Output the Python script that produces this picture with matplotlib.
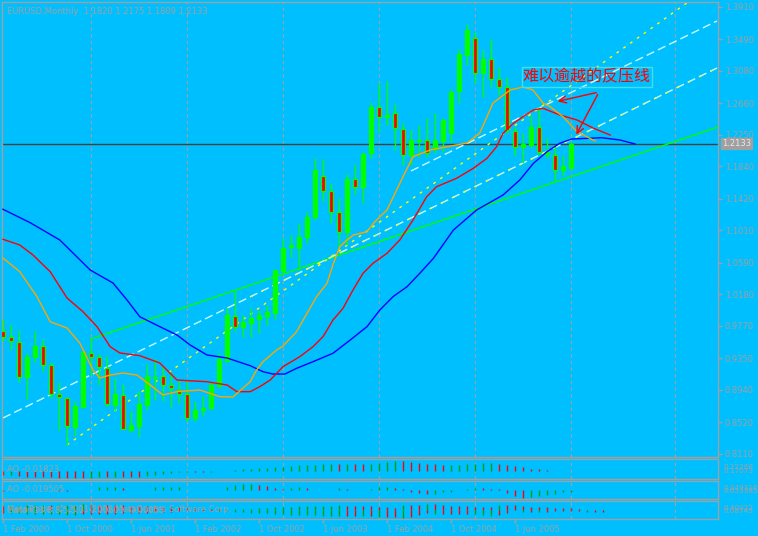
import matplotlib
matplotlib.use('Agg')
import matplotlib.pyplot as plt
import numpy as np
from matplotlib.transforms import blended_transform_factory

W, H = 758, 536
BG = '#00bfff'
FG = '#a0a0a0'
BULL = '#00ff00'
BEAR = '#ff0000'

# ---------------- data ----------------
symbol_title = 'EURUSD,Monthly  1.1820 1.2175 1.1809 1.2133'
date_labels = ['1 Feb 2000', '1 Oct 2000', '1 Jun 2001', '1 Feb 2002', '1 Oct 2002',
               '1 Jun 2003', '1 Feb 2004', '1 Oct 2004', '1 Jun 2005']
date_idx = [0, 8, 16, 24, 32, 40, 48, 56, 64]
grid_idx = [11, 23, 35, 47, 59, 71, 84]
price_ticks = [0.8110, 0.8520, 0.8940, 0.9350, 0.9770, 1.0180, 1.0590, 1.1010,
               1.1420, 1.1840, 1.2250, 1.2660, 1.3080, 1.3490, 1.3910]
last_price = 1.2133

opens = [.9709, .9623, .9566, .9104, .9363, .9515, .9264, .8884, .8832, .8464,
         .8716, .9415, .9372, .9221, .8741, .8875, .8420, .8476, .8741, .9091,
         .9121, .9004, .8939, .8887, .8576, .8680, .8706, .8992, .9320, .9904,
         .9761, .9813, .9860, .9903, .9942, 1.0487, 1.0790, 1.0777, 1.0920, 1.1179,
         1.1719, 1.1525, 1.1244, 1.0993, 1.1671, 1.1568, 1.2009, 1.2605, 1.2475, 1.2536,
         1.2320, 1.1987, 1.2168, 1.2186, 1.2061, 1.2173, 1.2276, 1.2821, 1.3284, 1.3500,
         1.3055, 1.3227, 1.2968, 1.2864, 1.2303, 1.2087, 1.2116, 1.2346, 1.2000, 1.1987,
         1.1792, 1.1820]
highs = [.9860, .9796, .9718, .9415, .9705, .9597, .9285, .9043, .8853, .8797,
         .9458, .9597, .9406, .9381, .9091, .9017, .8671, .8931, .9273, .9342,
         .9251, .9177, .9069, .9056, .8801, .8862, .9048, .9415, .9999, 1.0236,
         .9912, .9999, .9977, 1.0042, 1.0500, 1.0907, 1.0950, 1.1101, 1.1252, 1.1944,
         1.1931, 1.1628, 1.1425, 1.1741, 1.1870, 1.2030, 1.2657, 1.2917, 1.2947, 1.2650,
         1.2398, 1.2311, 1.2376, 1.2463, 1.2528, 1.2463, 1.2839, 1.3357, 1.3681, 1.3586,
         1.3349, 1.3487, 1.3124, 1.2994, 1.2354, 1.2268, 1.2506, 1.2615, 1.2204, 1.2117,
         1.1990, 1.2175]
lows = [.9580, .9458, .9048, .8823, .9298, .9186, .8832, .8421, .8227, .8347,
        .8702, .9134, .9005, .8737, .8672, .8430, .8390, .8335, .8680, .8810,
        .8801, .8724, .8767, .8542, .8533, .8606, .8693, .8962, .9300, .9709,
        .9631, .9631, .9675, .9783, .9860, 1.0431, 1.0660, 1.0496, 1.0850, 1.1140,
        1.1395, 1.1110, 1.0770, 1.0820, 1.1480, 1.1360, 1.1944, 1.2290, 1.2376, 1.2048,
        1.1857, 1.1857, 1.1965, 1.1965, 1.2009, 1.2030, 1.2159, 1.2657, 1.3154, 1.2925,
        1.2735, 1.2864, 1.2765, 1.2268, 1.1974, 1.1879, 1.2074, 1.1987, 1.1944, 1.1641,
        1.1720, 1.1809]
closes = [.9623, .9579, .9104, .9363, .9515, .9264, .8888, .8845, .8477, .8732,
          .9437, .9372, .9234, .8758, .8888, .8433, .8489, .8758, .9121, .9112,
          .9004, .8962, .8887, .8576, .8680, .8706, .9004, .9342, .9912, .9761,
          .9825, .9869, .9912, .9955, 1.0496, 1.0778, 1.0820, 1.0928, 1.1179, 1.1793,
          1.1525, 1.1244, 1.0984, 1.1671, 1.1568, 1.2000, 1.2605, 1.2475, 1.2506, 1.2333,
          1.1987, 1.2186, 1.2186, 1.2017, 1.2182, 1.2441, 1.2808, 1.3297, 1.3608, 1.3055,
          1.3227, 1.2968, 1.2864, 1.2311, 1.2095, 1.2130, 1.2346, 1.2022, 1.2030, 1.1792,
          1.1844, 1.2133]

# Alligator lines (bar index, price)
jaw_k = [0, 3.4, 7.1, 10.9, 13.75, 15.5, 17.1, 19.6, 21.75, 23.4, 25.5, 28, 30.9, 32.5,
         33.75, 35.25, 36.7, 38.75, 41.25, 43.4, 45.5, 47.1, 48.75, 50.5, 52.1, 53.8,
         56.3, 59.2, 62.5, 64.6, 66.3, 68, 69.6, 71.1, 74.8, 77.1, 79]
jaw_p = [1.1283, 1.1109, 1.0885, 1.0496, 1.0327, 1.0107, .9890, .9761, .9653, .9523,
         .9394, .9355, .9255, .9177, .9147, .9147, .9221, .9307, .9416, .9588, .9761,
         .9977, 1.0150, 1.0279, 1.0453, 1.0647, 1.1014, 1.1274, 1.1468, 1.1663, 1.1879,
         1.2030, 1.2139, 1.2194, 1.2211, 1.2182, 1.2130]
teeth_k = [0, 2.1, 3.75, 5.9, 8, 10, 11.75, 13.4, 14.6, 17.1, 19.6, 21.75, 25.5, 28,
           29.25, 30.9, 32.1, 33.4, 35, 37.1, 38.75, 40, 41.25, 42.5, 43.75, 45, 46.25,
           48, 49.6, 51.25, 52.96, 54.2, 56.7, 58.8, 60.5, 61.7, 62.5, 63.8, 65, 66.3,
           67.5, 69.6, 71.75, 73.75, 75.9]
teeth_p = [1.0894, 1.0820, 1.0690, 1.0474, 1.0133, .9955, .9761, .9501, .9420, .9385,
           .9290, .9069, .9047, .9005, .8918, .8918, .8983, .9069, .9242, .9372, .9501,
           .9631, .9847, .9999, 1.0236, 1.0453, 1.0583, 1.0712, 1.0885, 1.1144, 1.1446,
           1.1576, 1.1685, 1.1815, 1.1944, 1.2095, 1.2268, 1.2398, 1.2484, 1.2571, 1.2593,
           1.2506, 1.2441, 1.2337, 1.2246]
lips_k = [0, 2.1, 4.25, 5.9, 8, 9.6, 11.25, 12.1, 13.4, 15, 16.75, 18.4, 20, 21.75,
          24.6, 27.1, 28.75, 30.9, 31.7, 32.5, 34.2, 35, 36.7, 38, 39.2, 40.5, 41.3,
          42.1, 43, 43.8, 45.5, 46.3, 46.7, 48, 50, 51.25, 53.4, 58, 59.6, 61.25, 63.4,
          65, 66.25, 67.5, 68.4, 70, 71.75, 74]
lips_p = [1.0651, 1.0474, 1.0150, .9825, .9744, .9549, .9199, .9095, .9134, .9160,
          .9134, .9005, .8875, .8918, .8940, .8853, .8849, .9047, .9199, .9307, .9458,
          .9510, .9696, .9934, 1.0150, 1.0323, 1.0583, 1.0798, 1.0885, 1.0950, 1.0992,
          1.1101, 1.1144, 1.1274, 1.1706, 1.1965, 1.2052, 1.2143, 1.2272, 1.2661, 1.2830,
          1.2869, 1.2830, 1.2661, 1.2613, 1.2484, 1.2289, 1.2169]

# drawn trend lines: two anchor points each (bar index, price)
green_line = [(11, 0.9601), (70.9, 1.1702)]
channel_a = [(0, 0.8577), (89.25, 1.3115)]
channel_b = [(51, 1.1780), (89.25, 1.3725)]
yellow_line = [(8, 0.8227), (86, 1.3997)]

annot_text = '难以逾越的反压线'
annot_pos = (73, 1.3000)
arrow_from = (74.5, 1.2804)
arrow_tips = [(69, 1.2674), (71.5, 1.2220)]

# indicator windows (values in pixel-scale units of each pane)
ao1 = [-4.0, -3.8, -5.0, -5.5, -5.8, -6.1, -6.4, -6.6, -6.8, -6.9,
       -7.0, -6.5, -6.0, -6.2, -5.8, -6.0, -6.2, -6.3, -5.0, -4.0,
       -3.0, -2.2, -1.4, -0.6, -1.0, -1.2, -0.8, -0.3, 0.3, 1.2,
       2.0, 2.5, 3.0, 3.4, 4.0, 4.5, 5.0, 5.6, 6.0, 6.4,
       6.8, 7.3, 7.1, 7.3, 7.1, 7.0, 7.3, 8.5, 9.5, 10.0,
       9.7, 9.0, 7.7, 6.8, 6.6, 5.7, 6.2, 6.5, 6.8, 7.3,
       8.0, 8.2, 6.7, 5.7, 4.7, 3.7, 2.3, 1.7, 1.0]
ao2 = [-0.7, 0.0, 0.0, 0.0, 0.0, 0.0, 0.0, -0.6, -0.6, -0.3,
       0.0, 0.3, 3.0, 3.2, 3.3, 2.5, 0.0, 0.5, 0.3, 3.0,
       3.2, 3.3, 3.4, 0.3, -0.4, 0.0, 0.1, 0.4, 3.0, 5.0,
       6.0, 6.2, 5.2, 4.0, 2.0, 1.0, 2.5, 2.6, 1.7, 0.4,
       0.5, 0.4, 1.7, 1.0, 0.4, 0.3, 1.0, 3.3, 3.4, 1.7,
       0.7, -1.7, -3.3, -4.3, -4.2, -2.3, -1.7, 0.0, 0.7, 1.7,
       1.6, 0.7, 0.6, -3.3, -5.7, -7.7, -6.7, -5.7, -5.0, -3.7,
       -2.3, -1.7]
gator_up = [4.0, 4.2, 4.4, 4.6, 4.8, 5.0, 5.0, 5.2, 5.4, 5.5,
            5.6, 5.4, 5.2, 5.0, 4.8, 4.6, 4.4, 4.2, 4.0, 3.7,
            3.4, 3.0, 2.6, 2.2, 1.8, 1.4, 1.0, 0.6, 0.4, 0.6,
            1.0, 1.4, 1.8, 2.2, 2.6, 3.0, 3.3, 3.6, 3.8, 4.0,
            4.2, 4.4, 4.6, 4.5, 4.4, 4.3, 4.3, 3.3, 3.3, 2.3,
            5.0, 5.0, 5.0, 5.7, 5.7, 5.0, 4.3, 4.0, 4.0, 3.3,
            3.3, 3.3, 5.0, 5.0, 5.0, 4.3, 3.3, 3.3, 2.7, 2.3,
            1.7, 1.7, 0.7, 0.3, 0.2, 0.2]
gator_dn = [3.0, 3.2, 3.4, 3.6, 3.8, 4.0, 4.2, 4.4, 4.5, 4.6,
            4.4, 4.2, 4.0, 3.8, 3.5, 3.2, 3.0, 2.8, 2.5, 2.2,
            2.0, 1.7, 1.4, 1.2, 1.0, 0.8, 0.7, 1.0, 1.4, 1.8,
            2.2, 2.6, 3.0, 3.4, 3.8, 4.2, 4.6, 5.0, 5.2, 5.4,
            5.5, 5.6, 5.7, 5.6, 5.6, 5.7, 5.7, 6.7, 6.7, 6.7,
            7.7, 6.7, 5.0, 3.3, 4.3, 4.3, 4.0, 4.0, 4.0, 4.3,
            5.0, 5.7, 5.0, 3.3, 0.3, 1.7, 1.7, 2.3, 1.7, 1.0,
            1.0, 1.0, 1.0, 1.7, 1.7, 1.7]
ao1_label = 'AO -0.01823'
ao2_label = 'AO -0.019505'
gator_label = 'Gator(13,8,8,5,5,3) 0.00603 -0.00853'
copyright_label = 'MetaTrader © 2001-2005 MetaQuotes Software Corp.'
pane_scale_labels = [('0.22268', '0.17073'), ('0.049316', '0.053385'), ('0.40022', '0.08743')]

# ---------------- figure ----------------
plt.rcParams['font.family'] = ['DejaVu Sans']
fig = plt.figure(figsize=(W / 100, H / 100), dpi=100, facecolor=BG)


def pbox(x0, y0, x1, y1):
    return [x0 / W, 1 - y1 / H, (x1 - x0) / W, (y1 - y0) / H]


XL = (-0.125, 89.375)
ax = fig.add_axes(pbox(2, 2, 718, 457), facecolor=BG)
ax1 = fig.add_axes(pbox(2, 459, 718, 479), facecolor=BG)
ax2 = fig.add_axes(pbox(2, 481, 718, 499), facecolor=BG)
ax3 = fig.add_axes(pbox(2, 501, 718, 519), facecolor=BG)

for a in (ax, ax1, ax2, ax3):
    a.set_xlim(*XL)
    for s in a.spines.values():
        s.set_color(FG)
        s.set_linewidth(1)
    a.set_xticks([])
    for g in grid_idx:
        a.axvline(g, color=FG, lw=0.8, ls=(0, (3, 3)), zorder=0)

# ---- main pane ----
ax.set_ylim(0.8071, 1.3971)
ax.yaxis.tick_right()
ax.set_yticks(price_ticks)
ax.set_yticklabels([f'{v:.4f}' for v in price_ticks])
ax.tick_params(axis='y', length=3, width=1, color=FG, labelcolor=FG, labelsize=6, pad=2)

n = len(opens)
idx = np.arange(n)
o = np.array(opens); c = np.array(closes); hi = np.array(highs); lo = np.array(lows)
ax.vlines(idx, lo, hi, color=BULL, lw=1, zorder=3)
bull = c >= o
ax.bar(idx, np.abs(c - o), bottom=np.minimum(o, c), width=0.55,
       color=np.where(bull, BULL, BEAR), edgecolor=BULL, linewidth=0.9, zorder=4)

ax.plot(jaw_k, jaw_p, color='#0000ff', lw=1, zorder=5)
ax.plot(teeth_k, teeth_p, color='#ff0000', lw=1, zorder=5)
ax.plot(lips_k, lips_p, color='#ffa500', lw=1, zorder=5)


def extend(pts, x_end):
    (x0, y0), (x1, y1) = pts
    s = (y1 - y0) / (x1 - x0)
    return [x0, x_end], [y0, y0 + s * (x_end - x0)]


gx, gy = extend(green_line, XL[1])
ax.plot(gx, gy, color='#00ff00', lw=1, zorder=2)
axx, ayy = extend(channel_a, channel_a[1][0])
ax.plot(axx, ayy, color='#c8ffff', lw=1, ls=(0, (6, 3)), zorder=2)
sa = (channel_a[1][1] - channel_a[0][1]) / (channel_a[1][0] - channel_a[0][0])
ax.plot([30, axx[1]], [channel_a[0][1] + sa * 30, ayy[1]],
        color='#ffff00', lw=1, ls=(3, (1.5, 7.5)), zorder=2)
bx, by = extend(channel_b, channel_b[1][0])
ax.plot(bx, by, color='#c8ffff', lw=1, ls=(0, (6, 3)), zorder=2)
yx, yy = extend(yellow_line, yellow_line[1][0])
ax.plot(yx, yy, color='#ffff00', lw=1, ls=(0, (2, 4)), zorder=2)

ax.axhline(last_price, color='#404040', lw=1, zorder=1)

tr = blended_transform_factory(ax.transAxes, ax.transData)
ax.text(1.0 + 4 / 716, last_price, f'{last_price:.4f}', transform=tr, ha='left', va='center',
        fontsize=6, color='#e8e8e8',
        bbox=dict(boxstyle='square,pad=0.15', fc=FG, ec=FG), zorder=10, clip_on=False)

ax.text(5 / 716, 1 - 9 / 455, symbol_title, transform=ax.transAxes, ha='left', va='center',
        fontsize=6, color=FG)

ax.text(*annot_pos, annot_text, ha='center', va='center', fontsize=11.5, color='#ff0000',
        family=['Noto Sans CJK SC', 'DejaVu Sans'], zorder=8,
        bbox=dict(boxstyle='square,pad=0.08', fc='none', ec='#40e0e8', lw=1))
for tip in arrow_tips:
    ax.annotate('', xy=tip, xytext=arrow_from,
                arrowprops=dict(arrowstyle='->,head_length=0.5,head_width=0.25', color='#ff0000', lw=1),
                zorder=8)

# ---- AO pane 1 ----
ax1.set_ylim(-8, 12)
ax1.set_yticks([])
v1 = np.array(ao1)
col1 = ['#00a000' if i > 0 and v1[i] > v1[i - 1] else BEAR for i in range(len(v1))]
ax1.vlines(np.arange(len(v1)), 0, v1, colors=col1, lw=1)
ax1.text(5 / 716, 0.5, ao1_label, transform=ax1.transAxes, fontsize=6, color=FG, va='center')

# ---- AO pane 2 ----
ax2.set_ylim(-9, 9)
ax2.set_yticks([])
v2 = np.array(ao2)
col2 = ['#00a000' if i > 0 and v2[i] > v2[i - 1] else BEAR for i in range(len(v2))]
ax2.vlines(np.arange(len(v2)), 0, v2, colors=col2, lw=1)
ax2.text(5 / 716, 0.5, ao2_label, transform=ax2.transAxes, fontsize=6, color=FG, va='center')

# ---- Gator pane ----
ax3.set_ylim(-9, 9)
ax3.set_yticks([])
gu = np.array(gator_up); gd = np.array(gator_dn)
cu = ['#00a000' if i > 0 and gu[i] > gu[i - 1] else BEAR for i in range(len(gu))]
cd = ['#00a000' if i > 0 and gd[i] > gd[i - 1] else BEAR for i in range(len(gd))]
ax3.vlines(np.arange(len(gu)), 0, gu, colors=cu, lw=1)
ax3.vlines(np.arange(len(gd)), -gd, 0, colors=cd, lw=1)
ax3.text(5 / 716, 0.5, copyright_label, transform=ax3.transAxes, fontsize=6, color=FG, va='center')
ax3.text(5 / 716, 0.45, gator_label, transform=ax3.transAxes, fontsize=6, color=FG, va='center')
ax3.set_xticks(date_idx)
ax3.set_xticklabels(date_labels)
ax3.tick_params(axis='x', length=3, width=1, color=FG, labelcolor=FG, labelsize=6, pad=1)
for lbl in ax3.get_xticklabels():
    lbl.set_ha('left')

for a, (t1, t2) in zip((ax1, ax2, ax3), pane_scale_labels):
    a.text(1.0 + 5 / 716, 0.62, t1, transform=a.transAxes, fontsize=5.2, color=FG, va='center')
    a.text(1.0 + 5 / 716, 0.42, t2, transform=a.transAxes, fontsize=5.2, color=FG, va='center')

fig.savefig('out.png', dpi=100, facecolor=BG)
